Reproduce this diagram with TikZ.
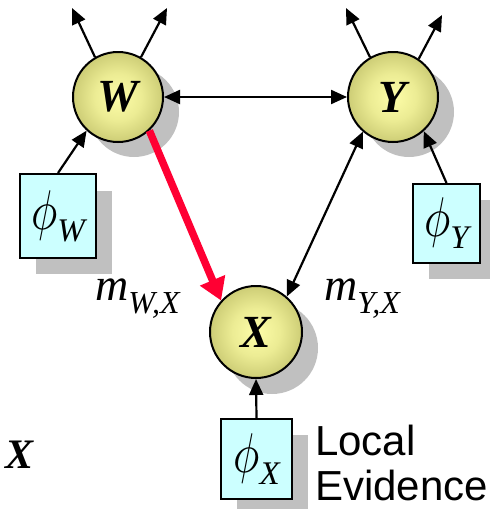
\documentclass[tikz,border=0pt]{standalone}
\usepackage{graphicx}
\usepackage{fontspec}
\setmainfont{Liberation Serif}
\newfontfamily\lsans{Liberation Sans}
\usetikzlibrary{arrows.meta}
\definecolor{shadowgray}{RGB}{192,192,192}
\definecolor{boxcyan}{RGB}{204,255,255}
\definecolor{nodein}{RGB}{253,253,168}
\definecolor{nodemid}{RGB}{236,236,148}
\definecolor{nodeout}{RGB}{205,205,118}
\definecolor{msgred}{RGB}{255,0,51}
\pgfdeclareradialshading{ballshade}{\pgfpoint{0bp}{0bp}}{color(0bp)=(nodein); color(13bp)=(nodemid); color(25bp)=(nodeout); color(50bp)=(nodeout)}
\newcommand{\potlab}[1]{\scalebox{4.4}[5.6]{$\phi$}\raisebox{-12pt}{\fontsize{33}{33}\selectfont\itshape #1}}
\begin{document}
\begin{tikzpicture}[x=1pt,y=-1pt,
  var/.style={circle,draw,line width=2pt,minimum size=90pt,inner sep=0pt,
    shading=ballshade,
    font=\fontsize{46}{46}\selectfont\bfseries\itshape},
  pot/.style={rectangle,draw,line width=2pt,fill=boxcyan,inner sep=0pt},
  arr/.style={line width=2.2pt,-{Triangle[length=16pt,width=14pt]}},
  barr/.style={line width=2.2pt,{Triangle[length=16pt,width=14pt]}-{Triangle[length=16pt,width=14pt]}},
  redarr/.style={line width=7.5pt,draw=msgred,-{Triangle[length=22pt,width=26pt]},color=msgred},
  mlab/.style={anchor=base west,inner sep=0pt}
]
\useasboundingbox (0,0) rectangle (490,509);
% shadows
\fill[shadowgray] (134,112) circle (45pt);
\fill[shadowgray] (409,112) circle (45pt);
\fill[shadowgray] (272,348) circle (46pt);
\fill[shadowgray] (36,191) rectangle (112,274);
\fill[shadowgray] (429,200) rectangle (496,279);
\fill[shadowgray] (237,435) rectangle (308,515);
% nodes
\node[var] (W) at (118,97) {W};
\node[var] (Y) at (393,97) {Y};
\node[var,minimum size=92pt] (X) at (256,332) {X};
\node[pot,minimum width=76pt,minimum height=84pt] (pW) at (58,216) {\potlab{W}};
\node[pot,minimum width=67pt,minimum height=79pt] (pY) at (446.5,223.5) {\potlab{Y}};
\node[pot,minimum width=71pt,minimum height=80pt] (pX) at (256.5,459) {\potlab{X}};
% free ends
\coordinate (w1) at (72,8);
\coordinate (w2) at (167,8);
\coordinate (y1) at (346,8);
\coordinate (y2) at (442,15);
% connectors
\draw[arr] (W.120) -- (w1);
\draw[arr] (W.60) -- (w2);
\draw[arr] (Y.120) -- (y1);
\draw[arr] (Y.56) -- (y2);
\draw[barr] (W) -- (Y);
\draw[arr] (pW.north) -- (W.227);
\draw[arr] (pY.north) -- (Y.312);
\draw[arr] (pX.north) -- (X.south);
\draw[barr] (Y.229) -- (X.49);
\draw[redarr] (W.313) -- (X.138);
% labels
\node[mlab] (mWX) at (95,300) {{\fontsize{46}{46}\selectfont\itshape m}\raisebox{-13pt}{\fontsize{32}{32}\selectfont\itshape W,X}};
\node[mlab] (mYX) at (324,300) {{\fontsize{46}{46}\selectfont\itshape m}\raisebox{-13pt}{\fontsize{32}{32}\selectfont\itshape Y,X}};
\node[mlab] (xl) at (5,468) {\fontsize{42}{42}\selectfont\bfseries\itshape X};
\node[mlab] (le1) at (315,455) {\lsans\fontsize{42}{42}\selectfont Local};
\node[mlab] (le2) at (315,500) {\lsans\fontsize{42}{42}\selectfont Evidence};
\end{tikzpicture}
\end{document}
